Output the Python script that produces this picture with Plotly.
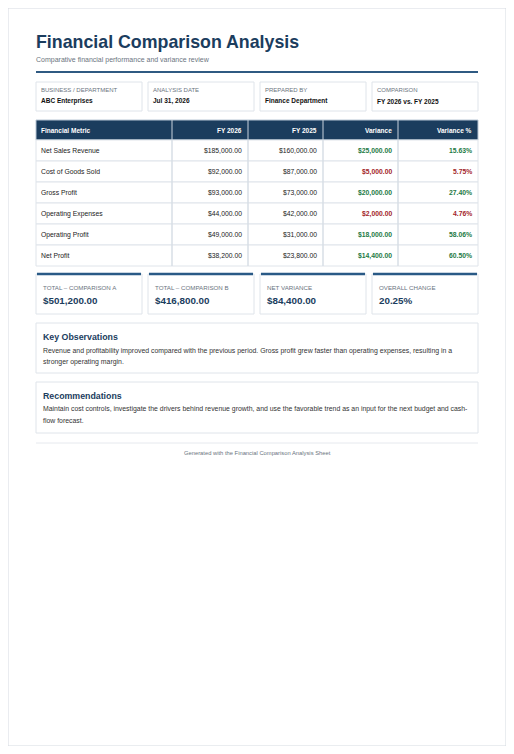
import plotly.graph_objects as go

metrics = ["Net Sales Revenue", "Cost of Goods Sold", "Gross Profit", "Operating Expenses", "Operating Profit", "Net Profit"]
fy2026 = [185000, 92000, 93000, 44000, 49000, 38200]
fy2025 = [160000, 87000, 73000, 42000, 31000, 23800]
variance = [25000, 5000, 20000, 2000, 18000, 14400]
variance_pct = [15.63, 5.75, 27.40, 4.76, 58.06, 60.50]
favorable = [True, False, True, False, True, True]
headers = ["Financial Metric", "FY 2026", "FY 2025", "Variance", "Variance %"]
info_labels = ["BUSINESS / DEPARTMENT", "ANALYSIS DATE", "PREPARED BY", "COMPARISON"]
info_values = ["ABC Enterprises", "Jul 31, 2026", "Finance Department", "FY 2026 vs. FY 2025"]
card_labels = ["TOTAL – COMPARISON A", "TOTAL – COMPARISON B", "NET VARIANCE", "OVERALL CHANGE"]
card_values = ["$501,200.00", "$416,800.00", "$84,400.00", "20.25%"]

NAVY = "#1b3d5e"; GREEN = "#1e7a45"; RED = "#a3262a"; GREY = "#6b7480"; BORDER = "#dfe4ea"
F = "Liberation Sans, Arial, sans-serif"
shapes = []; ann = []

def rect(x0, y0, x1, y1, fill="white", line=BORDER, w=1):
    shapes.append(dict(type="rect", x0=x0, y0=y0, x1=x1, y1=y1, fillcolor=fill, line=dict(color=line, width=w), layer="below"))

def txt(x, y, s, size=7, color="#222", bold=False, anchor="left"):
    if bold: s = "<b>" + s + "</b>"
    ann.append(dict(x=x, y=y, text=s, showarrow=False, xanchor=anchor, yanchor="middle", font=dict(family=F, size=size, color=color)))

rect(8, 8, 506, 746, "white", "#d5dae1")
txt(34, 42, "Financial Comparison Analysis", 17.8, NAVY, True)
txt(34, 60, "Comparative financial performance and variance review", 7, GREY)
shapes.append(dict(type="line", x0=36, x1=478, y0=72, y1=72, line=dict(color="#2f5a82", width=2)))

bx = [36, 148, 260, 372]
for i, x in enumerate(bx):
    rect(x, 82, x + 106, 111)
    txt(x + 3, 90, info_labels[i], 6, GREY)
    txt(x + 3, 101, info_values[i], 6.5, "#111", True)

cols = [36, 172, 248, 323, 398, 478]
rect(36, 120, 478, 140, NAVY, "#b8c6d4")
for j in range(5):
    if j > 0:
        shapes.append(dict(type="line", x0=cols[j], x1=cols[j], y0=120, y1=266, line=dict(color="#c9d3dd", width=1)))
    if j == 0:
        txt(cols[0] + 3, 130, headers[0], 6.5, "white", True)
    else:
        txt(cols[j + 1] - 4, 130, headers[j], 6.5, "white", True, "right")
rh = 21
for i, m in enumerate(metrics):
    y0 = 140 + i * rh
    rect(36, y0, 478, y0 + rh, "white", BORDER)
    yc = y0 + rh / 2
    c = GREEN if favorable[i] else RED
    txt(cols[0] + 3, yc, m, 6.8, "#222")
    txt(cols[2] - 4, yc, f"${fy2026[i]:,.2f}", 6.8, "#222", anchor="right")
    txt(cols[3] - 4, yc, f"${fy2025[i]:,.2f}", 6.8, "#222", anchor="right")
    txt(cols[4] - 4, yc, f"${variance[i]:,.2f}", 6.8, c, True, "right")
    txt(cols[5] - 4, yc, f"{variance_pct[i]:.2f}%", 6.8, c, True, "right")
for j in range(1, 5):
    shapes.append(dict(type="line", x0=cols[j], x1=cols[j], y0=140, y1=266, line=dict(color=BORDER, width=1)))

for i, x in enumerate(bx):
    rect(x, 274, x + 106, 314)
    shapes.append(dict(type="line", x0=x + 1, x1=x + 105, y0=274, y1=274, line=dict(color="#2a5a86", width=2.5)))
    txt(x + 5, 287, card_labels[i], 6.2, GREY)
    txt(x + 5, 300, card_values[i], 9.8, NAVY, True)

rect(36, 323, 478, 373)
txt(41, 337, "Key Observations", 8.8, NAVY, True)
txt(41, 351, "Revenue and profitability improved compared with the previous period. Gross profit grew faster than operating expenses, resulting in a", 6.9, "#333")
txt(41, 362, "stronger operating margin.", 6.9, "#333")
rect(36, 382, 478, 433)
txt(41, 396, "Recommendations", 8.8, NAVY, True)
txt(41, 409, "Maintain cost controls, investigate the drivers behind revenue growth, and use the favorable trend as an input for the next budget and cash-", 6.9, "#333")
txt(41, 420, "flow forecast.", 6.9, "#333")
shapes.append(dict(type="line", x0=36, x1=478, y0=443, y1=443, line=dict(color="#e6e9ee", width=1)))
txt(257, 453, "Generated with the Financial Comparison Analysis Sheet", 5.8, GREY, anchor="center")

fig = go.Figure()
fig.update_layout(width=498, height=738, margin=dict(l=0, r=0, t=0, b=0),
                  paper_bgcolor="#e4e8ee", plot_bgcolor="#e4e8ee",
                  xaxis=dict(range=[8, 506], visible=False, fixedrange=True),
                  yaxis=dict(range=[746, 8], visible=False, fixedrange=True),
                  shapes=shapes, annotations=ann, showlegend=False)
fig.write_html("out.html", config={"displayModeBar": False})
